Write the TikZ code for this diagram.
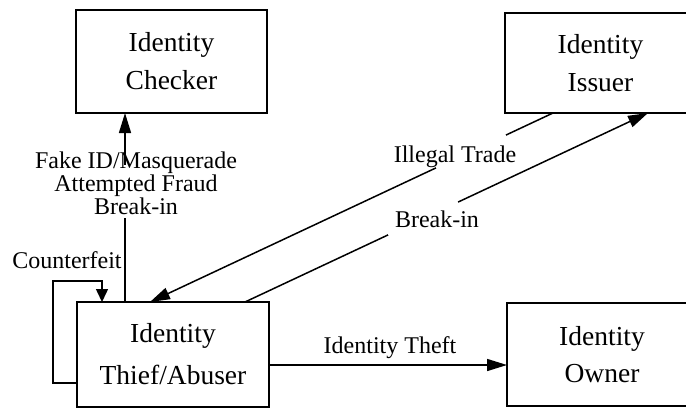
\documentclass[tikz,border=0pt]{standalone}
\usepackage{fontspec}
\setmainfont{Liberation Serif}
\usetikzlibrary{arrows.meta,calc}
\begin{document}
\begin{tikzpicture}[x=1pt,y=-1pt,
 box/.style={draw,line width=1.6pt,inner sep=0pt,outer sep=0pt,align=center},
 boxfont/.style={font=\fontsize{27.5}{38}\selectfont},
 lbl/.style={font=\fontsize{24}{21.5}\selectfont,align=center,inner sep=0pt},
 conn/.style={line width=1.5pt,-{Triangle[length=20pt,width=12pt]}},
 gap/.style={fill=white,inner sep=0pt,minimum height=5pt,sloped}
]
\useasboundingbox (0,0) rectangle (686,408);
\node[box,boxfont,minimum width=191pt,minimum height=103pt] (checker) at (171.5,61.5) {Identity\\Checker};
\node[box,boxfont,minimum width=191pt,minimum height=100pt] (issuer) at (600.5,63) {Identity\\Issuer};
\node[box,font=\fontsize{27.5}{42}\selectfont,minimum width=192pt,minimum height=105pt] (thief) at (173,354.5) {Identity\\Thief/Abuser};
\node[box,font=\fontsize{27.5}{37}\selectfont,minimum width=190pt,minimum height=103pt] (owner) at (602,354.5) {Identity\\Owner};

% to checker
\draw[conn] ($(thief.north west)+(48,0)$) -- node[gap,pos=0.585,minimum width=53pt]{} ($(checker.south west)+(49,0)$);
\node[lbl] (fake) at (136,183.5) {Fake ID/Masquerade\\Attempted Fraud\\Break-in};

% counterfeit loop
\draw[line width=1.5pt,-{Triangle[length=13pt,width=12pt]}] ($(thief.south west)+(0,-24)$) -- ++(-24,0) |- ($(thief.north west)+(25,-21)$) -- ($(thief.north west)+(25,0)$);
\node[lbl] (cf) at (67,260) {Counterfeit};

% illegal trade
\draw[conn] ($(issuer.south west)+(48,0)$) -- node[gap,pos=0.2035,minimum width=77pt]{} ($(thief.north west)+(73,0)$);
\node[lbl] (it) at (455,157) {Illegal Trade};

% break-in
\draw[conn] ($(thief.north west)+(168,0)$) -- node[gap,pos=0.442,minimum width=77pt]{} ($(issuer.south west)+(143,0)$);
\node[lbl] (bi) at (437,219.5) {Break-in};

% identity theft
\draw[conn] ($(thief.north east)+(0,63)$) -- ($(owner.north west)+(0,62)$);
\node[lbl] (theft) at (390,348) {Identity Theft};
\end{tikzpicture}
\end{document}
